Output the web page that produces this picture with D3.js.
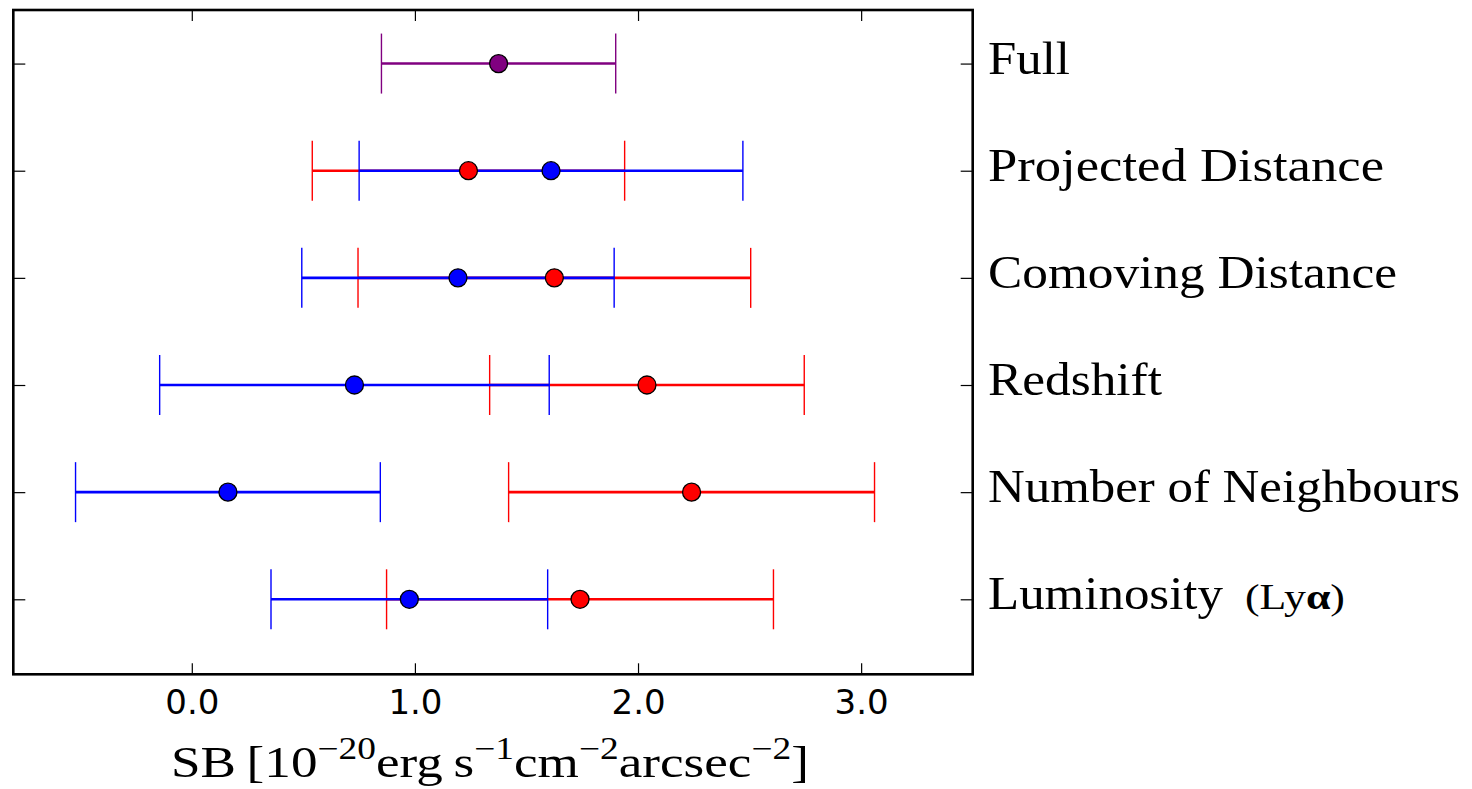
<!DOCTYPE html>
<html>
<head>
<meta charset="utf-8">
<script src="https://cdn.jsdelivr.net/npm/d3@7"></script>
<style>
  html, body { margin: 0; padding: 0; background: #fff; }
  svg { display: block; }
</style>
</head>
<body>
<svg id="chart" width="1472" height="789"></svg>
<script>
// Subsample categories, bottom to top
const categories = ["Luminosity", "Number of Neighbours", "Redshift", "Comoving Distance", "Projected Distance", "Full"];
// Label widths on the right-hand axis (px)
const labelWidths = [235, 472, 174, 409, 396, 82];

// Red subsample: mean SB and 1-sigma error (rows 0..4)
const redMean = [1.74, 2.24, 2.04, 1.625, 1.24];
const redErr  = [0.867, 0.82, 0.705, 0.88, 0.70];
// Blue subsample: mean SB and 1-sigma error (rows 0..4)
const blueMean = [0.975, 0.162, 0.729, 1.193, 1.61];
const blueErr  = [0.62, 0.683, 0.873, 0.70, 0.86];
// Full sample (top row)
const fullMean = [1.375];
const fullErr  = [0.525];

const xTicks = [0, 1, 2, 3];
const xTickLabels = ["0.0", "1.0", "2.0", "3.0"];

(function () {
  const svg = d3.select("#chart");
  const mLeft = 13.3, mRight = 972.7, mTop = 10, mBottom = 674.3;

  const x = d3.scaleLinear().domain([-0.8, 3.5]).range([mLeft, mRight]);
  const y = d3.scaleLinear().domain([-0.7, 5.5]).range([mBottom, mTop]);

  const serif = "'Liberation Serif', 'Times New Roman', serif";
  const sans = "'DejaVu Sans', sans-serif";

  // Axes with inward ticks on all four sides
  const rows = d3.range(categories.length);
  const gB = svg.append("g").attr("transform", `translate(0,${mBottom})`)
    .call(d3.axisBottom(x).tickValues(xTicks).tickSize(-11).tickPadding(16)
      .tickFormat((d, i) => xTickLabels[i]));
  const gT = svg.append("g").attr("transform", `translate(0,${mTop})`)
    .call(d3.axisTop(x).tickValues(xTicks).tickSize(-11).tickFormat(""));
  const gL = svg.append("g").attr("transform", `translate(${mLeft},0)`)
    .call(d3.axisLeft(y).tickValues(rows).tickSize(-12).tickFormat(""));
  const gR = svg.append("g").attr("transform", `translate(${mRight},0)`)
    .call(d3.axisRight(y).tickValues(rows).tickSize(-12).tickFormat(""));

  [gB, gT, gL, gR].forEach(g => {
    g.select(".domain").remove();
    g.selectAll(".tick line").attr("stroke", "#000").attr("stroke-width", 1.2);
  });
  gB.selectAll(".tick text").attr("font-family", sans).attr("font-size", 34).attr("fill", "#000");

  // Error bars: horizontal bar plus two caps
  const capHalf = 30;
  function toData(means, errs, rowOffset) {
    return means.map((m, i) => ({ row: i + rowOffset, m, e: errs[i] }));
  }
  function drawBars(data, color) {
    const g = svg.append("g");
    g.selectAll("line.bar").data(data).join("line").attr("class", "bar")
      .attr("x1", d => x(d.m - d.e)).attr("x2", d => x(d.m + d.e))
      .attr("y1", d => y(d.row)).attr("y2", d => y(d.row))
      .attr("stroke", color).attr("stroke-width", 2.6);
    const caps = data.flatMap(d => [d.m - d.e, d.m + d.e].map(v => ({ row: d.row, v })));
    g.selectAll("line.cap").data(caps).join("line").attr("class", "cap")
      .attr("x1", d => x(d.v)).attr("x2", d => x(d.v))
      .attr("y1", d => y(d.row) - capHalf).attr("y2", d => y(d.row) + capHalf)
      .attr("stroke", color).attr("stroke-width", 1.4);
  }
  function drawMarkers(data, color) {
    svg.append("g").selectAll("circle").data(data).join("circle")
      .attr("cx", d => x(d.m)).attr("cy", d => y(d.row)).attr("r", 9)
      .attr("fill", color).attr("stroke", "#000").attr("stroke-width", 1.3);
  }

  const redData = toData(redMean, redErr, 0);
  const blueData = toData(blueMean, blueErr, 0);
  const fullData = toData(fullMean, fullErr, categories.length - 1);

  drawBars(redData, "#ff0000");
  drawBars(blueData, "#0000ff");
  drawBars(fullData, "#800080");
  drawMarkers(redData, "#ff0000");
  drawMarkers(blueData, "#0000ff");
  drawMarkers(fullData, "#800080");

  // Frame
  svg.append("rect").attr("x", mLeft).attr("y", mTop)
    .attr("width", mRight - mLeft).attr("height", mBottom - mTop)
    .attr("fill", "none").attr("stroke", "#000").attr("stroke-width", 2.6);

  // Category labels on the right
  const labX = mRight + 15.3;
  const labG = svg.append("g");
  categories.forEach((c, i) => {
    labG.append("text")
      .attr("x", labX).attr("y", y(i) + 10)
      .attr("font-family", serif).attr("font-size", 46).attr("fill", "#000")
      .text(c).attr("textLength", labelWidths[i]).attr("lengthAdjust", "spacingAndGlyphs");
    if (c === "Luminosity") {
      const t2 = labG.append("text")
        .attr("x", 1245).attr("y", y(i) + 10)
        .attr("font-family", serif).attr("font-size", 36).attr("fill", "#000");
      t2.append("tspan").text("(Ly");
      t2.append("tspan").text("α").attr("font-weight", "bold");
      t2.append("tspan").text(")");
      t2.attr("textLength", 100).attr("lengthAdjust", "spacingAndGlyphs");
    }
  });

  // X-axis title
  const xt = svg.append("text")
    .attr("x", 171).attr("y", 777)
    .attr("font-family", serif).attr("font-size", 44).attr("fill", "#000");
  const parts = [
    ["SB", 0], ["\u2009[", 0], ["10", 0], ["\u221220", 1], ["erg", 0], ["\u2009s", 0],
    ["\u22121", 1], ["cm", 0], ["\u22122", 1], ["arcsec", 0], ["\u22122", 1], ["]", 0]
  ];
  let prevSup = false;
  parts.forEach(([s, sup]) => {
    const ts = xt.append("tspan").text(s);
    if (sup) {
      ts.attr("font-size", 31).attr("dy", prevSup ? 0 : -18);
    } else if (prevSup) {
      ts.attr("dy", 18);
    }
    prevSup = !!sup;
  });
  xt.attr("textLength", 638).attr("lengthAdjust", "spacingAndGlyphs");
})();
</script>
</body>
</html>
